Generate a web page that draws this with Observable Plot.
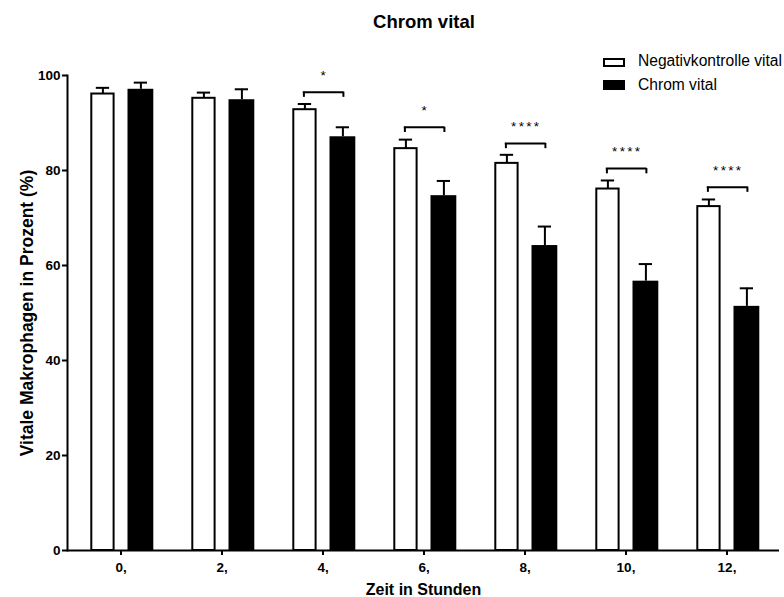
<!DOCTYPE html>
<html>
<head>
<meta charset="utf-8">
<script src="https://cdn.jsdelivr.net/npm/d3@7"></script>
<script src="https://cdn.jsdelivr.net/npm/@observablehq/plot@0.6"></script>
<style>
  html, body { margin: 0; padding: 0; background: #fff; }
  #wrap { position: relative; width: 784px; height: 597px; overflow: hidden;
          font-family: "Liberation Sans", Arial, sans-serif; color: #000; }
  #chart { position: absolute; left: 0; top: 0; }
  #chart svg { display: block; }
  #title { position: absolute; left: 224px; width: 400px; top: 12.5px; text-align: center;
           font-size: 18.5px; line-height: 18.5px; font-weight: bold; white-space: nowrap; }
  .leg-box { position: absolute; left: 603px; width: 22px; box-sizing: border-box; }
  .leg-text { position: absolute; left: 638px; font-size: 15.6px; line-height: 15.6px; white-space: nowrap; }
</style>
</head>
<body>
<div id="wrap">
  <div id="chart"></div>
  <div id="title"></div>
  <div id="legend"></div>
</div>
<script>
// ---- data ----
const times = ["0,", "2,", "4,", "6,", "8,", "10,", "12,"];
const negMean = [96.1, 95.2, 92.8, 84.6, 81.5, 76.1, 72.4];
const negErr = [1.3, 1.2, 1.2, 1.9, 1.8, 1.8, 1.5];
const chromMean = [97.1, 94.9, 87.1, 74.7, 64.2, 56.7, 51.4];
const chromErr = [1.4, 2.2, 2.0, 3.1, 4.0, 3.6, 3.8];
const sigLabels = ["", "", "*", "*", "****", "****", "****"];
const bracketY = [null, null, 96.5, 89.1, 85.7, 80.4, 76.5];
const yTicks = [0, 20, 40, 60, 80, 100];
const seriesNames = ["Negativkontrolle vital", "Chrom vital"];
const titleText = "Chrom vital";
const xLabel = "Zeit in Stunden";
const yLabel = "Vitale Makrophagen in Prozent (%)";

// ---- build table ----
const rows = times.map((t, i) => ({
  time: t, neg: negMean[i], negErr: negErr[i],
  chrom: chromMean[i], chromErr: chromErr[i],
  sig: sigLabels[i], bracket: bracketY[i]
}));
const sigRows = rows.filter(d => d.sig);
const bracketDrop = 1.1;

const chart = Plot.plot({
  width: 784,
  height: 597,
  marginLeft: 67,
  marginRight: 5,
  marginTop: 75,
  marginBottom: 47,
  style: { fontFamily: "'Liberation Sans', Arial, sans-serif", fontSize: "13px", fontWeight: "bold", color: "#000", background: "#fff" },
  x: { type: "band", domain: times, padding: 0 },
  y: { domain: [0, 100] },
  marks: [
    // bars
    Plot.barY(rows, { x: "time", y: "neg", fill: "white", stroke: "black", strokeWidth: 2, insetLeft: 21.3, insetRight: 57.4 }),
    Plot.barY(rows, { x: "time", y: "chrom", fill: "black", insetLeft: 57.5, insetRight: 17.7 }),
    // error bars
    Plot.ruleX(rows, { x: "time", y1: "neg", y2: d => d.neg + d.negErr, dx: -18.1, stroke: "black", strokeWidth: 2 }),
    Plot.tickY(rows, { x: "time", y: d => d.neg + d.negErr, insetLeft: 25.8, insetRight: 61.9, stroke: "black", strokeWidth: 2 }),
    Plot.ruleX(rows, { x: "time", y1: "chrom", y2: d => d.chrom + d.chromErr, dx: 19.9, stroke: "black", strokeWidth: 2 }),
    Plot.tickY(rows, { x: "time", y: d => d.chrom + d.chromErr, insetLeft: 63.75, insetRight: 24, stroke: "black", strokeWidth: 2 }),
    // significance brackets
    Plot.tickY(sigRows, { x: "time", y: "bracket", insetLeft: 30.8, insetRight: 29.5, stroke: "black", strokeWidth: 2 }),
    Plot.ruleX(sigRows, { x: "time", y1: "bracket", y2: d => d.bracket - bracketDrop, dx: -19.1, stroke: "black", strokeWidth: 2 }),
    Plot.ruleX(sigRows, { x: "time", y1: "bracket", y2: d => d.bracket - bracketDrop, dx: 20.4, stroke: "black", strokeWidth: 2 }),
    Plot.text(sigRows, { x: "time", y: "bracket", text: "sig", dy: -16.5, dx: 1.2, fontSize: 13.5, fontWeight: "normal", fill: "black" }),
    // axes
    Plot.ruleY([0], { stroke: "black", strokeWidth: 2 }),
    Plot.frame({ anchor: "left", stroke: "black", strokeWidth: 2 }),
    Plot.axisY({ ticks: yTicks, tickSize: 5, tickPadding: 2, strokeWidth: 2, label: null, fontSize: 13.5, fontWeight: "bold" }),
    Plot.axisX({ tickSize: 5, tickPadding: 6.5, strokeWidth: 2, label: null, fontSize: 13.5, fontWeight: "bold" }),
    Plot.text([xLabel], { text: d => d, frameAnchor: "bottom", dy: 44, lineAnchor: "bottom", fontSize: 16, fontWeight: "bold", fill: "black" }),
    Plot.text([yLabel], { text: d => d, frameAnchor: "left", textAnchor: "middle", rotate: -90, dx: -35, lineAnchor: "bottom", fontSize: 17.5, fontWeight: "bold", fill: "black" })
  ]
});

d3.select(chart).selectAll("text")
  .filter(function () { return /^\*+$/.test(this.textContent); })
  .attr("letter-spacing", "2.3px");

document.getElementById("chart").appendChild(chart);
document.getElementById("title").textContent = titleText;

// legend
const legend = document.getElementById("legend");
const legendSpec = [
  { name: seriesNames[0], boxTop: 58, boxH: 9, fill: "#fff", border: "2px solid #000", textTop: 53.3 },
  { name: seriesNames[1], boxTop: 80, boxH: 10, fill: "#000", border: "none", textTop: 77.3 }
];
legendSpec.forEach(s => {
  const b = document.createElement("div");
  b.className = "leg-box";
  b.style.top = s.boxTop + "px";
  b.style.height = s.boxH + "px";
  b.style.background = s.fill;
  b.style.border = s.border;
  legend.appendChild(b);
  const t = document.createElement("div");
  t.className = "leg-text";
  t.style.top = s.textTop + "px";
  t.textContent = s.name;
  legend.appendChild(t);
});
</script>
</body>
</html>
